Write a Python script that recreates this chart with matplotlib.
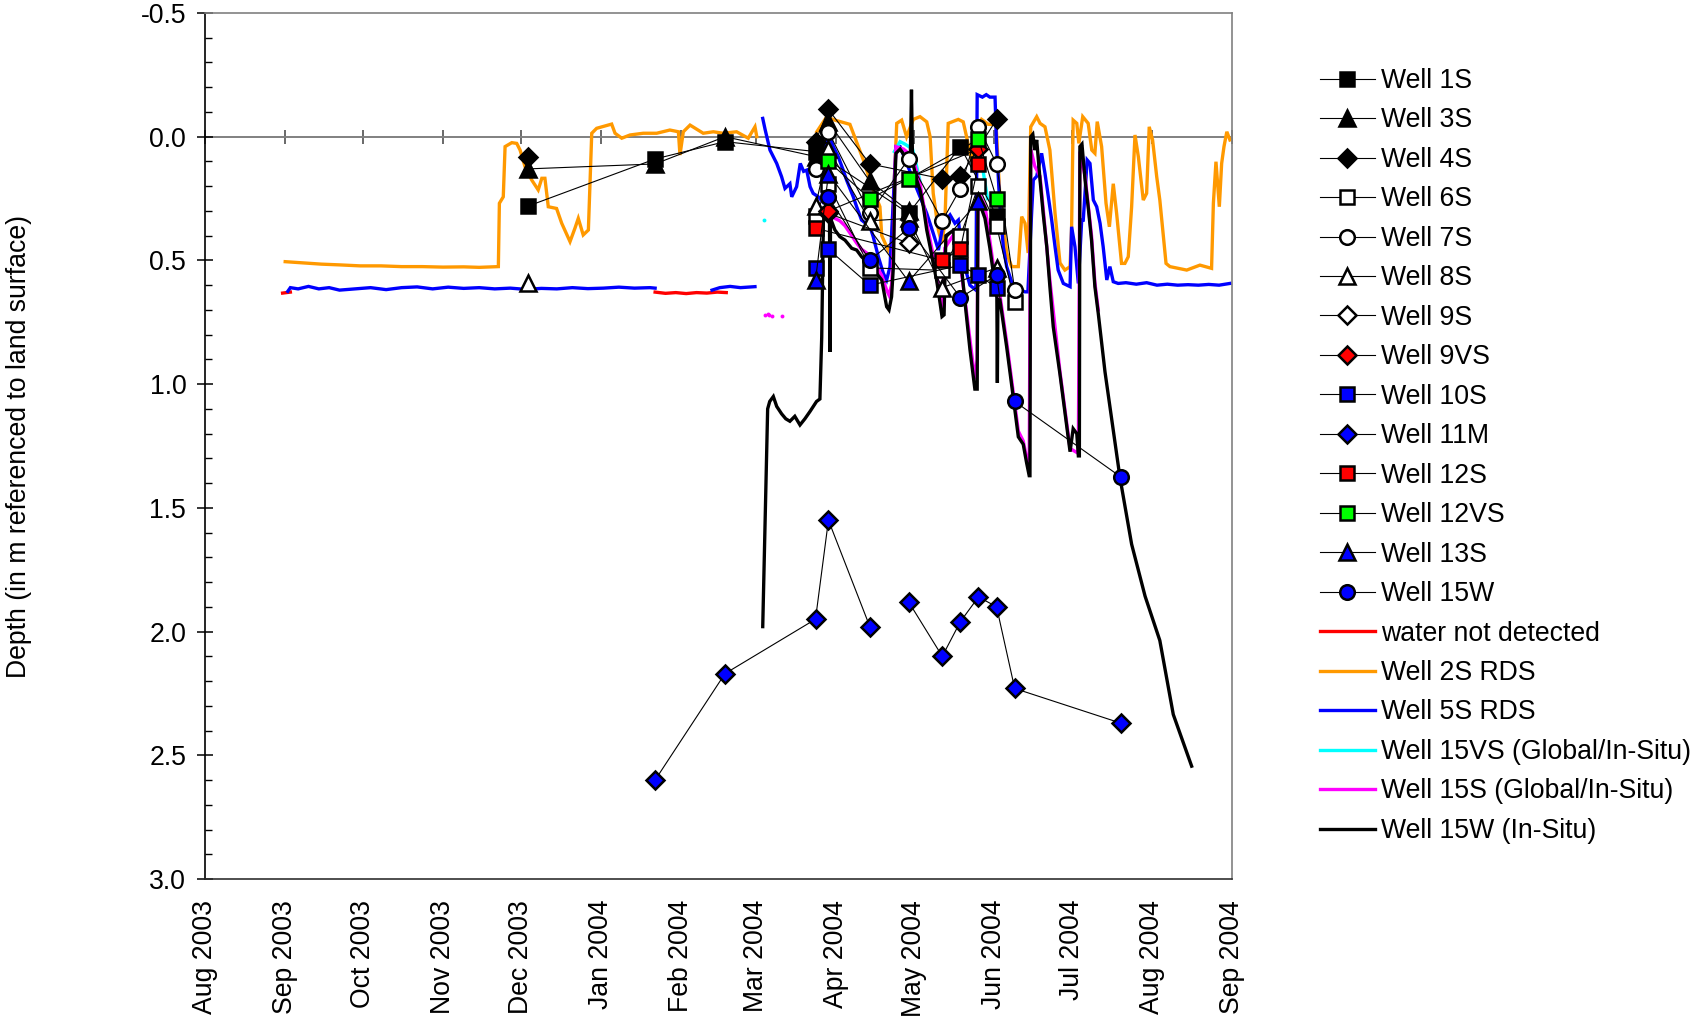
import numpy as np
import pandas as pd
import matplotlib
matplotlib.use("Agg")
import matplotlib.pyplot as plt
import matplotlib.dates as mdates
from matplotlib.lines import Line2D
from matplotlib.ticker import MultipleLocator, FormatStrFormatter

plt.rcParams["font.family"] = ["Liberation Sans", "DejaVu Sans"]
plt.rcParams["axes.unicode_minus"] = False
FS = 19.2

START = pd.Timestamp("2003-08-01")
X_END = pd.Timestamp("2004-09-01")
Y_TOP, Y_BOTTOM = -0.5, 3.0

# ---- manual well soundings (None = not sampled, nan = break in line) ----
sample_dates = ["2003-12-04", "2004-01-22", "2004-02-18", "2004-03-24",
                "2004-03-29", "2004-04-14", "2004-04-29", "2004-05-12",
                "2004-05-19", "2004-05-26", "2004-06-02", "2004-06-09",
                "2004-07-20"]
nan = float("nan")
well_1s = [0.28, 0.09, 0.02, 0.06, None, None, 0.31, None, 0.04, None, 0.32, None, None]
well_3s = [0.13, 0.11, 0.00, 0.08, -0.06, 0.18, 0.30, None, None, None, None, None, None]
well_4s = [0.08, nan, None, 0.02, -0.11, 0.11, None, 0.17, 0.16, None, -0.07, None, None]
well_6s = [None, None, None, 0.32, 0.19, 0.53, None, 0.54, 0.40, 0.20, 0.36, 0.67, None]
well_7s = [None, None, None, 0.13, -0.02, 0.31, 0.09, 0.34, 0.21, -0.04, 0.11, 0.62, None]
well_8s = [0.59, nan, None, 0.28, 0.05, 0.34, 0.33, 0.61, None, None, 0.53, None, None]
well_9s = [None, None, None, None, 0.31, None, 0.43, None, None, None, None, None, None]
well_9vs = [None, None, None, None, 0.30, None, None, None, None, 0.05, None, None, None]
well_10s = [None, None, None, 0.53, 0.455, 0.60, None, None, 0.52, 0.56, 0.61, None, None]
well_11m = [None, 2.60, 2.17, 1.95, 1.55, 1.98, nan, 1.88, 2.10, 1.96, 1.86, 1.90, 2.23, 2.37]
well_11m_dates = sample_dates[:6] + ["2004-04-20"] + sample_dates[6:]
well_12s = [None, None, None, 0.37, None, None, None, 0.50, 0.455, 0.11, None, None, None]
well_12vs = [None, None, None, None, 0.10, 0.25, 0.17, None, None, 0.01, 0.25, None, None]
well_13s = [None, None, None, 0.58, 0.15, None, 0.585, None, None, 0.26, None, None, None]
well_15w = [None, None, None, None, 0.245, 0.50, 0.37, None, 0.65, None, 0.56, 1.07, 1.375]

# ---- continuous records: (days since 2003-08-01, depth); None = gap ----
water_not_detected = [(30, 0.632), (33, 0.628), None,
                      (174, 0.628), (178, 0.633), (182, 0.630), (186, 0.634),
                      (190, 0.630), (194, 0.632), (198, 0.628), (201.5, 0.630)]

well_2s_rds = [
    (31, 0.505), (38, 0.51), (45, 0.515), (52, 0.518), (60, 0.522), (68, 0.522),
    (76, 0.525), (84, 0.525), (92, 0.527), (100, 0.526), (106, 0.528), (113.4, 0.525),
    (113.8, 0.269), (115.3, 0.243), (116.0, 0.04), (118.6, 0.024), (120.5, 0.027),
    (121.8, 0.054), (123.7, 0.121), (126.3, 0.175), (128.8, 0.215), (130.2, 0.168),
    (131.4, 0.168), (132.7, 0.283), (135.9, 0.29), (137.9, 0.35), (141.1, 0.424),
    (143.0, 0.37), (144.3, 0.33), (146.2, 0.397), (148.2, 0.377), (149.5, -0.014),
    (151.4, -0.034), (157.2, -0.051), (158.5, -0.014), (161.1, 0.006), (164.3, -0.007),
    (169.4, -0.014), (174.6, -0.014), (179.7, -0.027), (183.0, -0.02), (183.6, 0.074),
    (184.9, -0.02), (187.5, -0.047), (192.6, -0.014), (196.5, -0.02), (200.3, -0.014),
    (205.5, -0.02), (210.0, 0.006), (212.6, -0.04), (213.3, 0.0), None,
    (236.5, -0.02), (240.3, -0.08), (243.5, -0.067), (249.3, -0.05), (254.5, 0.094),
    (258.3, 0.215), (260.9, 0.283), (261.6, 0.40), (264.1, 0.458), (265.4, 0.431),
    (267.4, -0.054), (269.3, -0.067), (271.2, 0.0), (273.8, -0.07), (276.4, -0.081),
    (279.0, -0.06), (280.3, 0.0), (281.5, 0.229), (283.5, 0.377), (284.8, 0.43),
    (286.0, 0.35), (287.3, -0.054), (291.2, -0.07), (293.1, -0.06), (294.4, 0.0),
    (296.4, 0.10), (298.3, -0.03), (300.2, -0.07), (302.8, -0.05), (305.8, -0.05),
    (307.3, 0.25), (309.9, 0.47), (311.8, 0.525), (314.4, 0.525), (315.7, 0.323),
    (317.0, 0.35), (318.2, 0.47), (319.2, -0.04), (321.5, -0.081), (322.8, -0.054),
    (324.7, -0.04), (326.6, 0.054), (328.6, 0.31), (330.5, 0.51), (332.4, 0.539),
    (334.4, 0.525), (335.0, 0.364), (335.6, -0.067), (337.0, -0.054), (337.8, 0.027),
    (339.3, -0.081), (341.4, -0.054), (342.8, 0.054), (344.0, 0.067), (344.9, -0.061),
    (346.6, 0.04), (348.3, 0.269), (349.6, 0.364), (351.1, 0.19), (352.4, 0.31),
    (354.3, 0.512), (355.6, 0.512), (356.9, 0.485), (358.2, 0.283), (359.5, -0.007),
    (360.8, 0.081), (362.7, 0.256), (364.0, 0.229), (365.0, -0.04), (366.3, 0.013),
    (367.9, 0.162), (369.1, 0.256), (371.5, 0.512), (373.0, 0.525), (379.5, 0.539),
    (384.6, 0.519), (389.1, 0.532), (389.8, 0.269), (390.8, 0.101), (392.1, 0.283),
    (393.0, 0.108), (393.9, 0.04), (395.0, -0.02), (396.2, 0.013)]

well_5s_rds = [
    (32, 0.625), (33, 0.61), (36, 0.615), (40, 0.605), (44, 0.615), (48, 0.61),
    (52, 0.62), (58, 0.615), (64, 0.61), (70, 0.618), (76, 0.61), (82, 0.607),
    (88, 0.615), (94, 0.608), (100, 0.613), (106, 0.61), (112, 0.615), (118, 0.612),
    (124, 0.617), (130, 0.613), (136, 0.615), (142, 0.61), (148, 0.614), (154, 0.612),
    (160, 0.608), (166, 0.612), (172, 0.61), (174, 0.612), None,
    (196, 0.62), (199, 0.61), (203, 0.605), (207, 0.61), (212.6, 0.606), None,
    (215.6, -0.074), (216.5, -0.03), (218.4, 0.054), (221.0, 0.108), (222.9, 0.162),
    (224.2, 0.209), (226.1, 0.19), (226.8, 0.243), (228.7, 0.202), (230.1, 0.108),
    (231.4, 0.14), (232.6, 0.135), (233.9, 0.202), (235.1, 0.229), (237.1, 0.243),
    (238.5, 0.26), (240.0, 0.03), (241.5, 0.0), (242.9, 0.04), (244.8, 0.081),
    (246.7, 0.135), (248.0, 0.175), (250.6, 0.243), (251.9, 0.283), (253.8, 0.337),
    (257.1, 0.364), (258.3, 0.404), (260.3, 0.485), (262.2, 0.552), (263.5, 0.579),
    (264.8, 0.525), (267.1, 0.04), (268.7, 0.04), (271.0, 0.10), (273.8, 0.175),
    (276.4, 0.243), (279.0, 0.31), (281.5, 0.39), (283.5, 0.458), (285.4, 0.35),
    (288.0, 0.316), (289.9, 0.35), (291.2, 0.337), (293.0, 0.50), (295.7, 0.60),
    (298.0, 0.62), (298.5, -0.17), (300.5, -0.16), (302.0, -0.17), (303.4, -0.16),
    (305.4, -0.16), (306.0, 0.04), (307.3, 0.283), (308.6, 0.445), (309.9, 0.525),
    (312.4, 0.606), (317.0, 0.627), (318.1, 0.627), (319.6, 0.296), (320.2, 0.175),
    (321.5, 0.16), (323.4, 0.067), (324.7, 0.148), (326.0, 0.243), (327.3, 0.337),
    (328.6, 0.445), (329.8, 0.539), (331.8, 0.593), (334.4, 0.606), (335.0, 0.364),
    (336.3, 0.445), (337.6, 0.593), (338.9, 0.337), (339.5, 0.337), (341.0, 0.094),
    (342.1, 0.108), (343.4, 0.256), (344.7, 0.283), (346.0, 0.35), (347.2, 0.445),
    (348.6, 0.579), (349.8, 0.525), (351.1, 0.586), (353, 0.593), (356, 0.59),
    (360, 0.596), (364, 0.59), (368, 0.60), (372, 0.596), (376, 0.60), (380, 0.598),
    (384, 0.60), (388, 0.597), (392, 0.60), (396.2, 0.593)]

well_15vs = [(266.5, 0.06), (268.7, 0.02), (270.6, 0.03), (273.5, 0.05), (275.1, 0.12),
             (276.4, 0.18), None, (298.8, 0.05), (300.5, 0.12), (302.5, 0.25)]
well_15vs_dots = [(215.9, 0.337)]

well_15s = [
    (241.9, 0.30), (243.5, 0.33), (245.4, 0.34), (247.4, 0.36), (250.0, 0.40),
    (251.9, 0.43), (253.8, 0.455), (255.8, 0.47), (257.7, 0.50), (259.6, 0.525),
    (261.6, 0.56), (263.5, 0.62), (264.4, 0.64), (265.4, 0.60), (266.1, 0.45),
    (266.7, 0.15), (267.1, 0.04), (270.0, 0.05), (273.5, 0.08), (276.4, 0.19),
    (279.0, 0.35), (281.5, 0.48), (283.8, 0.62), (284.9, 0.70), (286.0, 0.45),
    (289.1, 0.40), (291.8, 0.50), (293.8, 0.66), (295.7, 0.82), (297.6, 0.98),
    (298.5, 0.90), (298.8, 0.22), (301.5, 0.28), (303.4, 0.42), (305.4, 0.57),
    (307.3, 0.64), (309.9, 0.83), (312.4, 1.03), (314.4, 1.19), (316.3, 1.23),
    (318.6, 1.35), (319.2, 0.05), (320.8, 0.12), (322.8, 0.16), (324.0, 0.29),
    (326.6, 0.58), (330.5, 0.95), (334.4, 1.26), (337.6, 1.28), (338.2, 0.06),
    (340.2, 0.16), (342.7, 0.40), (344.0, 0.59), (345.3, 0.70)]
well_15s_dots = [(216.5, 0.72), (217.5, 0.715), (218.2, 0.72), (219.0, 0.725), (222.9, 0.725)]

well_15w_insitu = [
    (215.6, 1.98), (217.5, 1.10), (218.3, 1.07), (219.7, 1.05), (221.0, 1.09),
    (222.9, 1.12), (224.5, 1.14), (226.1, 1.15), (228.0, 1.13), (230.0, 1.165),
    (231.9, 1.14), (233.9, 1.11), (236.4, 1.07), (237.7, 1.06), (238.4, 0.81),
    (239.1, 0.30), (240.4, 0.32), (241.4, 0.30), (241.6, 0.87), (241.8, 0.33),
    (243.5, 0.377), (245.4, 0.404), (247.4, 0.418), (250.0, 0.451), (251.9, 0.458),
    (253.8, 0.485), (255.8, 0.505), (257.7, 0.539), (259.6, 0.552), (261.6, 0.579),
    (263.5, 0.687), (264.4, 0.70), (265.4, 0.647), (266.1, 0.525), (266.7, 0.175),
    (267.1, 0.067), (268.7, 0.05), (270.6, 0.08), (272.6, 0.12), (273.1, -0.19),
    (273.5, 0.10), (275.1, 0.175), (276.4, 0.215), (277.7, 0.283), (279.0, 0.377),
    (280.3, 0.445), (281.5, 0.512), (282.8, 0.579), (283.8, 0.647), (284.9, 0.727),
    (285.7, 0.72), (286.4, 0.40), (289.1, 0.38), (291.8, 0.46), (293.8, 0.67),
    (295.7, 0.86), (297.6, 1.02), (298.5, 1.02), (298.8, 0.25), (301.5, 0.33),
    (303.4, 0.45), (305.4, 0.60), (306.1, 0.65), (306.3, 0.995), (306.5, 0.66),
    (307.3, 0.66), (309.9, 0.85), (312.4, 1.05), (314.4, 1.213), (316.3, 1.243),
    (317.6, 1.318), (318.6, 1.37), (318.9, 1.37), (319.2, 0.0), (320.0, -0.01),
    (320.8, 0.054), (321.5, 0.013), (322.8, 0.175), (324.0, 0.31), (325.4, 0.445),
    (326.6, 0.606), (327.9, 0.768), (330.5, 0.96), (334.4, 1.273), (335.6, 1.18),
    (337.0, 1.20), (337.6, 1.29), (338.0, 1.29), (338.2, 0.04), (339.0, 0.03),
    (340.2, 0.175), (341.4, 0.283), (342.7, 0.418), (344.0, 0.606), (345.3, 0.714),
    (347.9, 0.95), (353.7, 1.378), (358.2, 1.647), (363.4, 1.857), (369.1, 2.036),
    (374.3, 2.335), (381.4, 2.544)]


def to_xy(pairs):
    days = [np.nan if p is None else p[0] for p in pairs]
    depth = [np.nan if p is None else p[1] for p in pairs]
    x = START + pd.to_timedelta(np.array(days, dtype=float), unit="D")
    return x, np.array(depth, dtype=float)


def manual_xy(dates, values):
    keep = [(pd.Timestamp(d), v) for d, v in zip(dates, values) if v is not None]
    return [k[0] for k in keep], np.array([k[1] for k in keep], dtype=float)


fig = plt.figure(figsize=(16.95, 10.21), dpi=100)
ax = fig.add_axes([205 / 1695, 1 - 879 / 1021, 1027 / 1695, 866 / 1021])

# continuous loggers
LW = 2.4
cont = [
    ("water not detected", water_not_detected, "#FF0000", 2.0),
    ("Well 2S RDS", well_2s_rds, "#FF9900", 2.0),
    ("Well 5S RDS", well_5s_rds, "#0000FF", 2.1),
    ("Well 15VS (Global/In-Situ)", well_15vs, "#00FFFF", 2.2),
    ("Well 15S (Global/In-Situ)", well_15s, "#FF00FF", 2.3),
    ("Well 15W (In-Situ)", well_15w_insitu, "#000000", 2.4),
]
for label, pairs, col, z in cont:
    x, y = to_xy(pairs)
    ax.plot(x, y, color=col, lw=LW, zorder=z, solid_joinstyle="miter")
for pairs, col in [(well_15vs_dots, "#00FFFF"), (well_15s_dots, "#FF00FF")]:
    x, y = to_xy(pairs)
    ax.plot(x, y, ls="none", marker="o", ms=2.8, color=col, mew=0, zorder=2.2)

# manual soundings
manual = [
    ("Well 1S", well_1s, "s", "black", 10),
    ("Well 3S", well_3s, "^", "black", 11),
    ("Well 4S", well_4s, "D", "black", 9),
    ("Well 6S", well_6s, "s", "white", 10),
    ("Well 7S", well_7s, "o", "white", 10.5),
    ("Well 8S", well_8s, "^", "white", 11),
    ("Well 9S", well_9s, "D", "white", 9),
    ("Well 9VS", well_9vs, "D", "#FF0000", 9),
    ("Well 10S", well_10s, "s", "#0000FF", 10),
    ("Well 11M", well_11m, "D", "#0000FF", 9),
    ("Well 12S", well_12s, "s", "#FF0000", 10),
    ("Well 12VS", well_12vs, "s", "#00FF00", 10),
    ("Well 13S", well_13s, "^", "#0000FF", 11),
    ("Well 15W", well_15w, "o", "#0000FF", 10.5),
]
handles = []
for i, (label, vals, mk, fc, ms) in enumerate(manual):
    dates = well_11m_dates if label == "Well 11M" else sample_dates
    x, y = manual_xy(dates, vals)
    ax.plot(x, y, color="black", lw=0.8, marker=mk, ms=ms, mfc=fc, mec="black",
            mew=1.8, zorder=4 + i * 0.01)
    handles.append(Line2D([], [], color="black", lw=0.8, marker=mk, ms=ms,
                          mfc=fc, mec="black", mew=1.8))
for label, pairs, col, z in cont:
    handles.append(Line2D([], [], color=col, lw=LW))
labels = [m[0] for m in manual] + [c[0] for c in cont]

# axes styling
ax.set_xlim(START, X_END)
ax.set_ylim(Y_BOTTOM, Y_TOP)
ax.xaxis.set_major_locator(mdates.MonthLocator())
ax.xaxis.set_major_formatter(mdates.DateFormatter("%b %Y"))
ax.tick_params(axis="x", length=0, pad=15, labelsize=FS, labelrotation=90)
ax.yaxis.set_major_locator(MultipleLocator(0.5))
ax.yaxis.set_minor_locator(MultipleLocator(0.1))
ax.yaxis.set_major_formatter(FormatStrFormatter("%.1f"))
ax.tick_params(axis="y", which="major", direction="inout", length=11, width=1.1,
               pad=8, labelsize=FS)
ax.tick_params(axis="y", which="minor", direction="in", length=5, width=1.0)
ax.spines["left"].set_color("black")
ax.spines["bottom"].set_color("#303030")
ax.spines["top"].set_color("#808080")
ax.spines["right"].set_color("#808080")
for s in ax.spines.values():
    s.set_linewidth(1.2)

# category axis crossing at depth 0, with month ticks
zero = ax.secondary_xaxis((Y_BOTTOM - 0) / (Y_BOTTOM - Y_TOP))
zero.xaxis.set_major_locator(mdates.MonthLocator())
zero.tick_params(direction="inout", length=10, width=1.1, color="#404040",
                 labeltop=False, labelbottom=False)
for s in zero.spines.values():
    s.set_color("#808080")
    s.set_linewidth(1.4)

fig.text(19.5 / 1695, 0.563, "Depth (in m referenced to land surface)",
         rotation=90, ha="center", va="center", fontsize=FS)

fig.legend(handles, labels, loc="upper left", bbox_to_anchor=(1320 / 1695, 1 - 68 / 1021),
           frameon=False, fontsize=FS, handlelength=2.05, handletextpad=0.25,
           labelspacing=0.505, borderpad=0, borderaxespad=0)

fig.savefig("out.png", dpi=100, facecolor="white")
